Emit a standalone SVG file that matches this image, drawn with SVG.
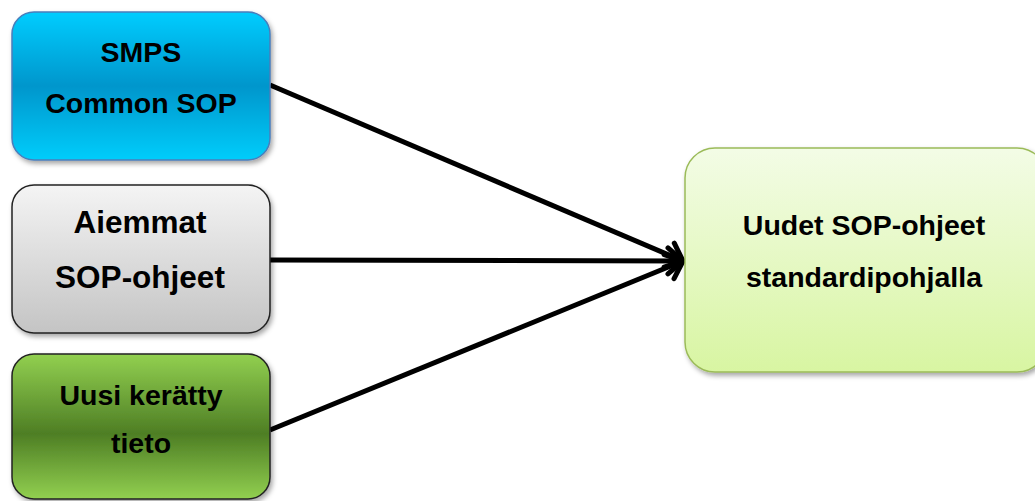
<svg xmlns="http://www.w3.org/2000/svg" width="1035" height="501" viewBox="0 0 1035 501">
<defs>
<linearGradient id="gBlue" x1="0" y1="0" x2="0" y2="1">
<stop offset="0" stop-color="#00cdff"/>
<stop offset="0.5" stop-color="#0096cc"/>
<stop offset="1" stop-color="#00cdfb"/>
</linearGradient>
<linearGradient id="gGray" x1="0" y1="0" x2="0" y2="1">
<stop offset="0" stop-color="#f4f4f4"/>
<stop offset="1" stop-color="#c4c4c4"/>
</linearGradient>
<linearGradient id="gGreen" x1="0" y1="0" x2="0" y2="1">
<stop offset="0" stop-color="#92d050"/>
<stop offset="0.55" stop-color="#4e7e24"/>
<stop offset="1" stop-color="#92d050"/>
</linearGradient>
<linearGradient id="gLight" x1="0" y1="0" x2="0" y2="1">
<stop offset="0" stop-color="#f3fce6"/>
<stop offset="1" stop-color="#d8f5a2"/>
</linearGradient>
<filter id="sh" x="-10%" y="-10%" width="120%" height="125%">
<feDropShadow dx="2" dy="3" stdDeviation="2.5" flood-color="#000" flood-opacity="0.35"/>
</filter>
<marker id="arr" viewBox="0 0 22 34" refX="19" refY="17" markerWidth="22" markerHeight="34" markerUnits="userSpaceOnUse" orient="auto">
<path d="M4,4 L19,17 L4,30" fill="none" stroke="#000" stroke-width="5" stroke-linecap="round" stroke-linejoin="round"/>
</marker>
</defs>
<style>
.t{font-family:"Liberation Sans",Arial,sans-serif;font-weight:bold;font-size:28.5px;fill:#000;text-anchor:middle}
.tg{font-size:31.5px}
.c{stroke:#000;stroke-width:5;fill:none}
</style>
<g id="connectors">
<line class="c" x1="270" y1="85" x2="683" y2="261" marker-end="url(#arr)"/>
<line class="c" x1="270" y1="260" x2="683" y2="261" marker-end="url(#arr)"/>
<line class="c" x1="270" y1="430" x2="683" y2="261" marker-end="url(#arr)"/>
</g>
<g id="node-smps">
<rect x="12" y="12" width="258" height="148" rx="22" fill="url(#gBlue)" stroke="#4a7ebb" stroke-width="1.5" filter="url(#sh)"/>
<text class="t" x="141" y="62">SMPS</text>
<text class="t" x="141" y="113">Common SOP</text>
</g>
<g id="node-aiemmat">
<rect x="12" y="185" width="258" height="148" rx="22" fill="url(#gGray)" stroke="#222" stroke-width="1.5" filter="url(#sh)"/>
<text class="t tg" x="140" y="233">Aiemmat</text>
<text class="t tg" x="140" y="288">SOP-ohjeet</text>
</g>
<g id="node-uusi">
<rect x="12" y="354" width="258" height="145" rx="22" fill="url(#gGreen)" stroke="#222" stroke-width="1.5" filter="url(#sh)"/>
<text class="t" x="141" y="405">Uusi kerätty</text>
<text class="t" x="141" y="453">tieto</text>
</g>
<g id="node-uudet">
<rect x="685" y="148" width="362" height="224" rx="30" fill="url(#gLight)" stroke="#9bbb59" stroke-width="1.5" filter="url(#sh)"/>
<text class="t" x="864" y="235">Uudet SOP-ohjeet</text>
<text class="t" x="864" y="287">standardipohjalla</text>
</g>
</svg>
